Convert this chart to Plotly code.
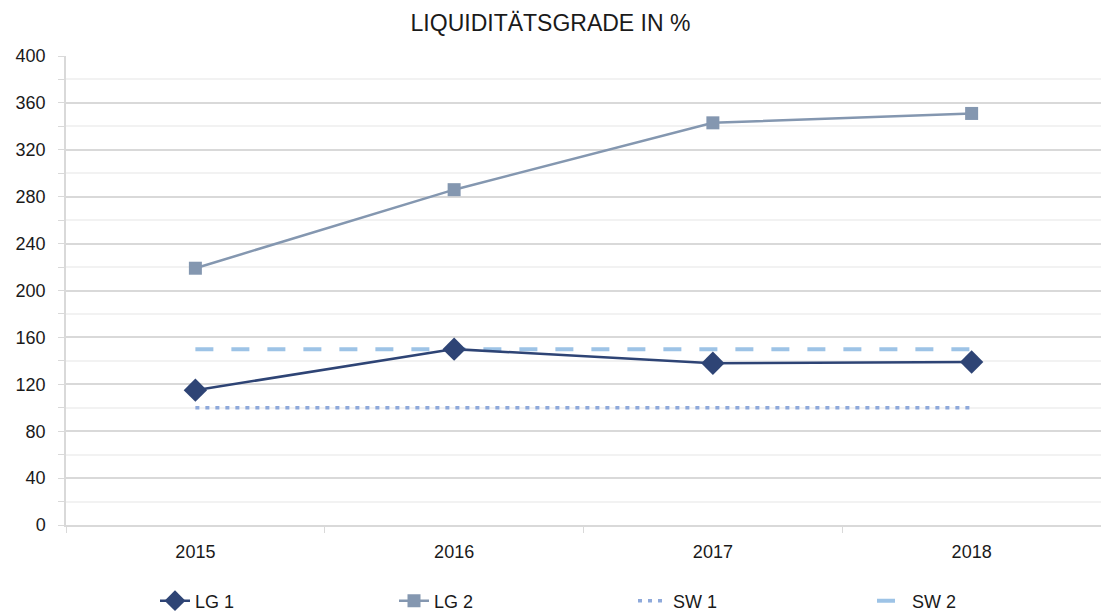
import plotly.graph_objects as go

years = ["2015", "2016", "2017", "2018"]
lg1 = [115, 150, 138, 139]
lg2 = [219, 286, 343, 351]
sw1 = [100, 100, 100, 100]
sw2 = [150, 150, 150, 150]
title_text = "LIQUIDITÄTSGRADE IN %"

fig = go.Figure()
fig.add_trace(go.Scatter(x=years, y=sw1, name="SW 1", mode="lines",
                         line=dict(color="#8EA9DB", width=3.5, dash="4px,6px"),
                         legendrank=3))
fig.add_trace(go.Scatter(x=years, y=sw2, name="SW 2", mode="lines",
                         line=dict(color="#9DC3E6", width=4, dash="18px,18px"),
                         legendrank=4))
fig.add_trace(go.Scatter(x=years, y=lg2, name="LG 2", mode="lines+markers",
                         line=dict(color="#8497B0", width=2.5),
                         marker=dict(symbol="square", size=13, color="#8497B0"),
                         legendrank=2))
fig.add_trace(go.Scatter(x=years, y=lg1, name="LG 1", mode="lines+markers",
                         line=dict(color="#2E4475", width=2.5),
                         marker=dict(symbol="diamond", size=18, color="#2E4475"),
                         legendrank=1))

fig.update_layout(
    width=1101, height=612,
    paper_bgcolor="white", plot_bgcolor="white",
    margin=dict(l=66, r=0, t=56, b=87, autoexpand=False),
    font=dict(family="Liberation Sans, Arial, sans-serif", size=18, color="#1a1a1a"),
    title=dict(text=title_text, x=0.5, xref="container", xanchor="center",
               y=1 - 23/612, yref="container", yanchor="middle",
               font=dict(size=23, color="#1a1a1a")),
    showlegend=True,
    legend=dict(orientation="h", x=155/1101, xref="container", xanchor="left",
                y=1 - 601/612, yref="container", yanchor="middle",
                entrywidth=194, entrywidthmode="pixels", font=dict(size=18),
                traceorder="normal"),
    xaxis=dict(type="category", range=[-0.5, 3.5], tickson="boundaries",
               automargin=False,
               showgrid=False, ticks="outside", ticklen=6, tickcolor="#D9D9D9",
               showline=True, linecolor="#D9D9D9", linewidth=1.5,
               tickfont=dict(size=18), ticklabelstandoff=10),
    yaxis=dict(range=[0, 400], dtick=40, showgrid=True, gridcolor="#D9D9D9", gridwidth=1.5,
               automargin=False,
               ticks="outside", ticklen=6, tickcolor="#D9D9D9",
               showline=True, linecolor="#D9D9D9", linewidth=1.5,
               zeroline=False, tickfont=dict(size=18), ticklabelstandoff=9,
               minor=dict(dtick=20, showgrid=True, gridcolor="#F2F2F2", gridwidth=1.5,
                          ticks="outside", ticklen=6, tickcolor="#D9D9D9")),
)

fig.write_html("out.html", config={"displayModeBar": False},
               post_script="document.body.style.margin='0';")
